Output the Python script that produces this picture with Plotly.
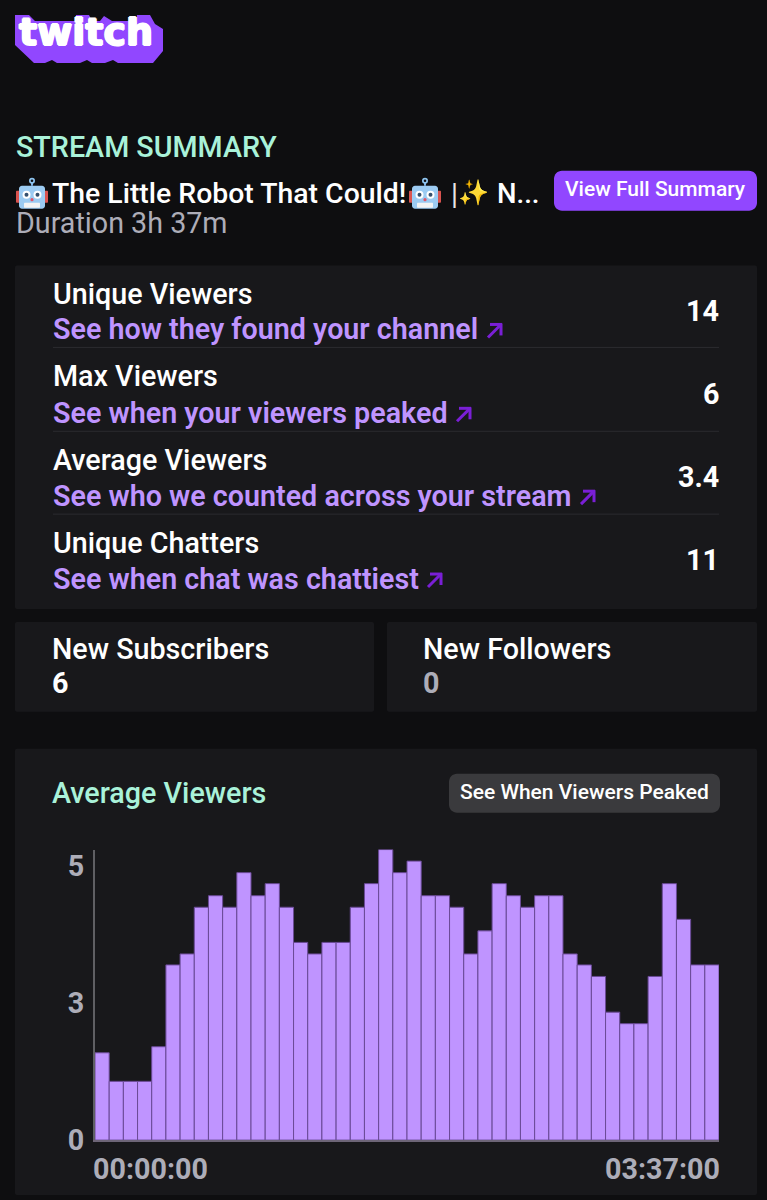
import plotly.graph_objects as go

W = 767
H = 1200

# values
viewers = [1.59, 1.07, 1.07, 1.07, 1.70, 3.19, 3.39, 4.24, 4.45, 4.24, 4.87,
           4.45, 4.67, 4.24, 3.60, 3.39, 3.60, 3.60, 4.24, 4.67, 5.29, 4.87,
           5.08, 4.45, 4.45, 4.24, 3.39, 3.81, 4.67, 4.45, 4.24, 4.45, 4.45,
           3.39, 3.19, 2.98, 2.33, 2.12, 2.12, 2.98, 4.67, 4.02, 3.19, 3.19]
y_ticks = [0, 2.5, 5]
y_labels = ['0', '3', '5']
x_labels = ['00:00:00', '03:37:00']

stat_names = ['Unique Viewers', 'Max Viewers', 'Average Viewers', 'Unique Chatters']
stat_links = ['See how they found your channel', 'See when your viewers peaked',
              'See who we counted across your stream', 'See when chat was chattiest']
stat_values = ['14', '6', '3.4', '11']

BG = '#0e0e10'
PANEL = '#18181b'
PURPLE = '#bf94ff'
BUTTON = '#9147ff'
MINT = '#a9f2d9'
GREY = '#adadb8'
ARROW = '#7a1fd6'
FONT = 'Roboto'
SIZE = 28.7


def px_x(x):
    return x / W


def px_y(y):
    return 1 - y / H


def rounded(x0, y0, x1, y1, r):
    # rounded rect path in paper coordinates
    k = r * 0.45
    pts = [
        f'M{px_x(x0 + r)},{px_y(y0)}', f'L{px_x(x1 - r)},{px_y(y0)}',
        f'C{px_x(x1 - k)},{px_y(y0)} {px_x(x1)},{px_y(y0 + k)} {px_x(x1)},{px_y(y0 + r)}',
        f'L{px_x(x1)},{px_y(y1 - r)}',
        f'C{px_x(x1)},{px_y(y1 - k)} {px_x(x1 - k)},{px_y(y1)} {px_x(x1 - r)},{px_y(y1)}',
        f'L{px_x(x0 + r)},{px_y(y1)}',
        f'C{px_x(x0 + k)},{px_y(y1)} {px_x(x0)},{px_y(y1 - k)} {px_x(x0)},{px_y(y1 - r)}',
        f'L{px_x(x0)},{px_y(y0 + r)}',
        f'C{px_x(x0)},{px_y(y0 + k)} {px_x(x0 + k)},{px_y(y0)} {px_x(x0 + r)},{px_y(y0)}', 'Z',
    ]
    return ' '.join(pts)


def poly(points):
    return 'M' + ' L'.join(f'{px_x(x)},{px_y(y)}' for x, y in points) + ' Z'


shapes = []
annotations = []


def box(x0, y0, x1, y1, color, r=2):
    shapes.append(dict(type='path', path=rounded(x0, y0, x1, y1, r), xref='paper', yref='paper',
                       fillcolor=color, line=dict(width=0), layer='below'))


def line(x0, y0, x1, y1, color, width):
    shapes.append(dict(type='line', x0=px_x(x0), y0=px_y(y0), x1=px_x(x1), y1=px_y(y1),
                       xref='paper', yref='paper', line=dict(color=color, width=width)))


def circle(cx, cy, r, color):
    shapes.append(dict(type='circle', x0=px_x(cx - r), y0=px_y(cy - r), x1=px_x(cx + r), y1=px_y(cy + r),
                       xref='paper', yref='paper', fillcolor=color, line=dict(width=0)))


def text(x, y, s, size=SIZE, color='#ffffff', weight=500, anchor='left', family=FONT, **font_extra):
    annotations.append(dict(x=px_x(x), y=px_y(y), xref='paper', yref='paper', text=s, showarrow=False,
                            xanchor=anchor, yanchor='middle', borderpad=0, borderwidth=0,
                            font=dict(size=size, color=color, weight=weight, family=family, **font_extra)))


def arrow(x, y):
    # small diagonal arrow after each link, x,y = lower left corner
    line(x + 1, y - 1, x + 14, y - 14, ARROW, 3)
    line(x + 3, y - 14, x + 15, y - 14, ARROW, 3)
    line(x + 14, y - 15, x + 14, y - 3, ARROW, 3)


def robot(x, y):
    # stand-in for the robot emoji, x,y = top left of a 32px square
    line(x + 16, y + 3, x + 16, y + 8, '#7fb4e6', 2)
    circle(x + 16, y + 3, 3, '#8fc5f0')
    circle(x + 16, y + 3, 1.3, BG)
    box(x, y + 13, x + 4, y + 25, '#d9534f', 1)
    box(x + 28, y + 13, x + 32, y + 25, '#d9534f', 1)
    box(x + 3, y + 8, x + 29, y + 31, '#9ccbf2', 3)
    for cx in (x + 10.5, x + 21.5):
        circle(cx, y + 17, 4, '#ffffff')
        circle(cx, y + 17, 2, '#35506e')
    circle(x + 16, y + 22, 1.6, '#e0556a')
    box(x + 8, y + 25, x + 24, y + 30, '#f4f4f4', 1)


# logo silhouette, letters go on top as text
logo = [(15, 14), (29, 14), (35, 20), (76, 20), (76, 14), (89, 14), (92, 20), (100, 20), (104, 15),
        (112, 20), (132, 20), (136, 22), (137, 14), (150, 14), (155, 23), (163, 28), (163, 50),
        (153, 62), (118, 62), (113, 59), (105, 62), (92, 62), (87, 59), (80, 62), (57, 62), (52, 59),
        (45, 62), (34, 62), (15, 44)]
shapes.append(dict(type='path', path=poly(logo), xref='paper', yref='paper',
                   fillcolor=BUTTON, line=dict(width=0), layer='below'))
text(19, 31, 'twitch', size=38, color='#ffffff', weight=700, family='DejaVu Sans',
     shadow='1px 0 #fff, -1px 0 #fff, 0 1px #fff, 0 -1px #fff')

# header
text(16, 146, 'STREAM SUMMARY', color=MINT, weight=500)
robot(16, 177)
text(52, 193, 'The Little Robot That Could!', size=28.4, weight=500)
robot(409, 177)
text(451, 193, '|', weight=400, color='#e6e6e6')
text(458, 192, '✨', size=25, color='#f7c948', family='DejaVu Sans')
text(497, 193, 'N...', size=27.5, weight=500)
text(16, 222, 'Duration 3h 37m', color=GREY, weight=400)
box(554, 170, 757, 210, BUTTON, 8)
text(655.5, 188, 'View Full Summary', size=21, anchor='center')

# stat rows
box(15, 265, 757, 609, PANEL)
name_y = [293, 376, 460, 543]
link_y = [329, 413, 496, 579]
value_y = [311, 394, 477, 560]
arrow_x = [487, 456, 580, 427]
for i in range(4):
    text(53, name_y[i], stat_names[i])
    text(53, link_y[i], stat_links[i], color=PURPLE, weight=600)
    text(719, value_y[i], stat_values[i], weight=700, anchor='right')
    arrow(arrow_x[i], link_y[i] + 9)
    if i < 3:
        line(53, link_y[i] + 18, 719, link_y[i] + 18, '#2b2b30', 1)

# small panels
box(15, 622, 374, 712, PANEL)
box(387, 622, 757, 712, PANEL)
text(52, 649, 'New Subscribers')
text(52, 683, '6', weight=700)
text(423, 649, 'New Followers')
text(423, 683, '0', weight=700, color=GREY)

# chart panel
box(15, 749, 757, 1196, PANEL)
text(52, 793, 'Average Viewers', color=MINT)
box(449, 774, 720, 813, '#3a3a3d', 8)
text(584.5, 792, 'See When Viewers Peaked', size=21, anchor='center')
text(93, 1170, x_labels[0], weight=700, color=GREY)
text(720, 1170, x_labels[1], weight=700, color=GREY, anchor='right')

fig = go.Figure(go.Bar(
    x=list(range(len(viewers))),
    y=viewers,
    width=1,
    marker=dict(color=PURPLE, line=dict(color='#6a4a96', width=1)),
))

fig.update_layout(
    width=W,
    height=1216,
    margin=dict(l=0, r=0, t=0, b=0),
    paper_bgcolor=BG,
    plot_bgcolor=PANEL,
    showlegend=False,
    shapes=shapes,
    annotations=annotations,
    xaxis=dict(domain=[95 / W, 719 / W], range=[-0.5, len(viewers) - 0.5], showgrid=False,
               zeroline=False, showticklabels=False, ticks='', showline=True,
               linecolor='#6d6577', linewidth=2),
    yaxis=dict(domain=[1 - 1141 / H, 1 - 850 / H], range=[0, 5.29], showgrid=False, zeroline=False,
               tickvals=y_ticks, ticktext=y_labels, ticks='', showline=True, linecolor='#5f5f63',
               linewidth=2, ticklabelstandoff=3,
               tickfont=dict(size=SIZE, color=GREY, family=FONT, weight=700)),
)

fig.write_html("out.html", config=dict(displayModeBar=False),
               post_script="document.body.style.cssText='margin:0;background:#0e0e10';")
